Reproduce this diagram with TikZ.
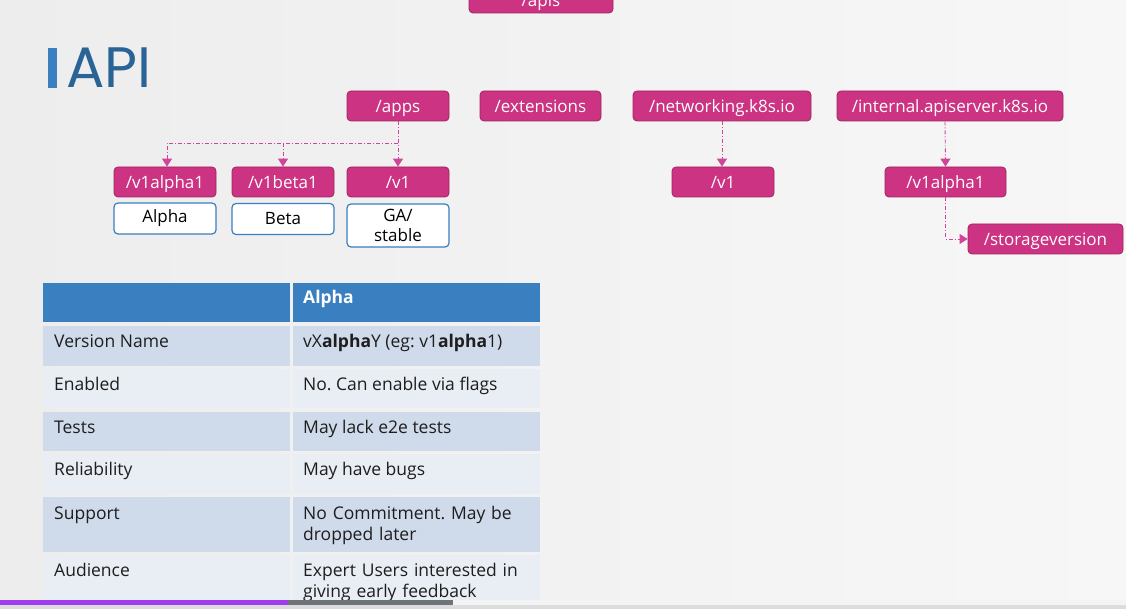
\documentclass[tikz,border=0pt]{standalone}
\usepackage{fontspec}
\setmainfont{Open Sans}
\newfontfamily\titlefont{Poppins}
\usetikzlibrary{arrows.meta}
\frenchspacing
\definecolor{bgl}{HTML}{EDEDED}
\definecolor{bgr}{HTML}{F7F7F7}
\definecolor{pinkfill}{HTML}{CC3383}
\definecolor{pinkline}{HTML}{A3235F}
\definecolor{conncol}{HTML}{D2449A}
\definecolor{boxblue}{HTML}{3A7FBF}
\definecolor{titleblue}{HTML}{2A6396}
\definecolor{rowdark}{HTML}{CFDAEA}
\definecolor{rowlight}{HTML}{E9EDF4}
\definecolor{barpurple}{HTML}{A03DF0}
\definecolor{bargray}{HTML}{6F7478}
\definecolor{bartrack}{HTML}{F4F4F4}
\definecolor{barbelow}{HTML}{DCDCDE}
\definecolor{celltext}{HTML}{1E1E1E}
\tikzset{
  pbox/.style={draw=pinkline, line width=0.8pt, fill=pinkfill, rounded corners=4pt,
    text=white, font=\fontsize{17}{20}\selectfont, inner sep=0pt, minimum height=30pt,
    text height=15pt, text depth=2pt},
  wbox/.style={draw=boxblue, line width=1.2pt, fill=white, rounded corners=4pt,
    text=black, font=\fontsize{17}{20}\selectfont, inner sep=0pt, align=center},
  conn/.style={draw=conncol, line width=0.9pt, dash pattern=on 4pt off 2pt on 1pt off 2pt,
    -{Triangle[width=10pt,length=8pt]}},
  cell/.style={anchor=base west, inner sep=0pt, text=celltext, font=\fontsize{17.5}{21}\selectfont},
  cellml/.style={cell, text width=235pt, align=left},
}
\begin{document}
\begin{tikzpicture}[x=1pt,y=-1pt]
\useasboundingbox (0,0) rectangle (1126,609);
\shade[left color=bgl, right color=bgr] (0,0) rectangle (1126,609);

% title
\fill[boxblue] (48,48) rectangle (57,88);
\node[anchor=base west, inner sep=0pt, text=titleblue, font=\titlefont\fontsize{57}{60}\selectfont] (title) at (66,88) {API};

% top level groups
\node[pbox, minimum width=144pt, text height=19pt, text depth=1pt] (apis) at (541,-2) {/apis};
\node[pbox, minimum width=102pt] (apps) at (398,106) {/apps};
\node[pbox, minimum width=121pt] (ext) at (540.5,106) {/extensions};
\node[pbox, minimum width=178pt] (net) at (722,106) {/networking.k8s.io};
\node[pbox, minimum width=226pt] (int) at (950,106) {/internal.apiserver.k8s.io};

% versions
\node[pbox, minimum width=102pt] (va) at (165,182) {/v1alpha1};
\node[pbox, minimum width=102pt] (vb) at (283,182) {/v1beta1};
\node[pbox, minimum width=102pt] (v1) at (398,182) {/v1};
\node[pbox, minimum width=102pt] (nv1) at (723,182) {/v1};
\node[pbox, minimum width=121pt] (iva) at (945.5,182) {/v1alpha1};
\node[pbox, minimum width=155pt] (sv) at (1045.5,239) {/storageversion};

% level boxes
\node[wbox, minimum width=102pt, minimum height=31pt] (alpha) at (165,218.5) {Alpha};
\node[wbox, minimum width=102pt, minimum height=31pt] (beta) at (283,219) {Beta};
\node[wbox, minimum width=102pt, minimum height=43pt] (ga) at (398,225.5) {GA/\\stable};

% connectors
\coordinate (jn) at (398,143);
\draw[conn] (apps.south) -- (v1.north);
\draw[conn] (jn) -| ([xshift=2pt]va.north);
\draw[conn] (jn -| vb.north) -- (vb.north);
\draw[conn] (net.south) -- (net.south |- nv1.north);
\draw[conn] ([xshift=-5pt]int.south) -- (iva.north);
\draw[conn] (iva.south) |- (sv.west);

% table
\fill[boxblue] (43,283) rectangle (290,322);
\fill[boxblue] (293,283) rectangle (540,322);
\foreach \t/\b/\c in {326/366/rowdark, 369/408/rowlight, 412/451/rowdark, 454/494/rowlight, 497/552/rowdark, 555/615/rowlight}{
  \fill[\c] (43,\t) rectangle (290,\b);
  \fill[\c] (293,\t) rectangle (540,\b);
}
\node[cell, text=white, font=\fontsize{17.5}{21}\selectfont\bfseries] (hdr) at (303,304) {Alpha};
\node[cell] (k1) at (54,347) {Version Name};
\node[cell] (d1) at (303,347) {vX\textbf{alpha}Y (eg: v1\textbf{alpha}1)};
\node[cell] (k2) at (54,390) {Enabled};
\node[cell] (d2) at (303,390) {No. Can enable via flags};
\node[cell] (k3) at (54,433) {Tests};
\node[cell] (d3) at (303,433) {May lack e2e tests};
\node[cell] (k4) at (54,475) {Reliability};
\node[cell] (d4) at (303,475) {May have bugs};
\node[cell] (k5) at (54,519) {Support};
\node[cellml] (d5) at (303,519) {No Commitment. May be\\dropped later};
\node[cell] (k6) at (54,576) {Audience};
\node[cellml] (d6) at (303,576) {Expert Users interested in\\giving early feedback};

% progress bar
\fill[bartrack] (0,600) rectangle (1126,605);
\fill[barbelow] (0,605) rectangle (1126,609);
\fill[barpurple] (0,600) rectangle (288,605);
\fill[bargray] (288,600) rectangle (453,605);
\end{tikzpicture}
\end{document}
